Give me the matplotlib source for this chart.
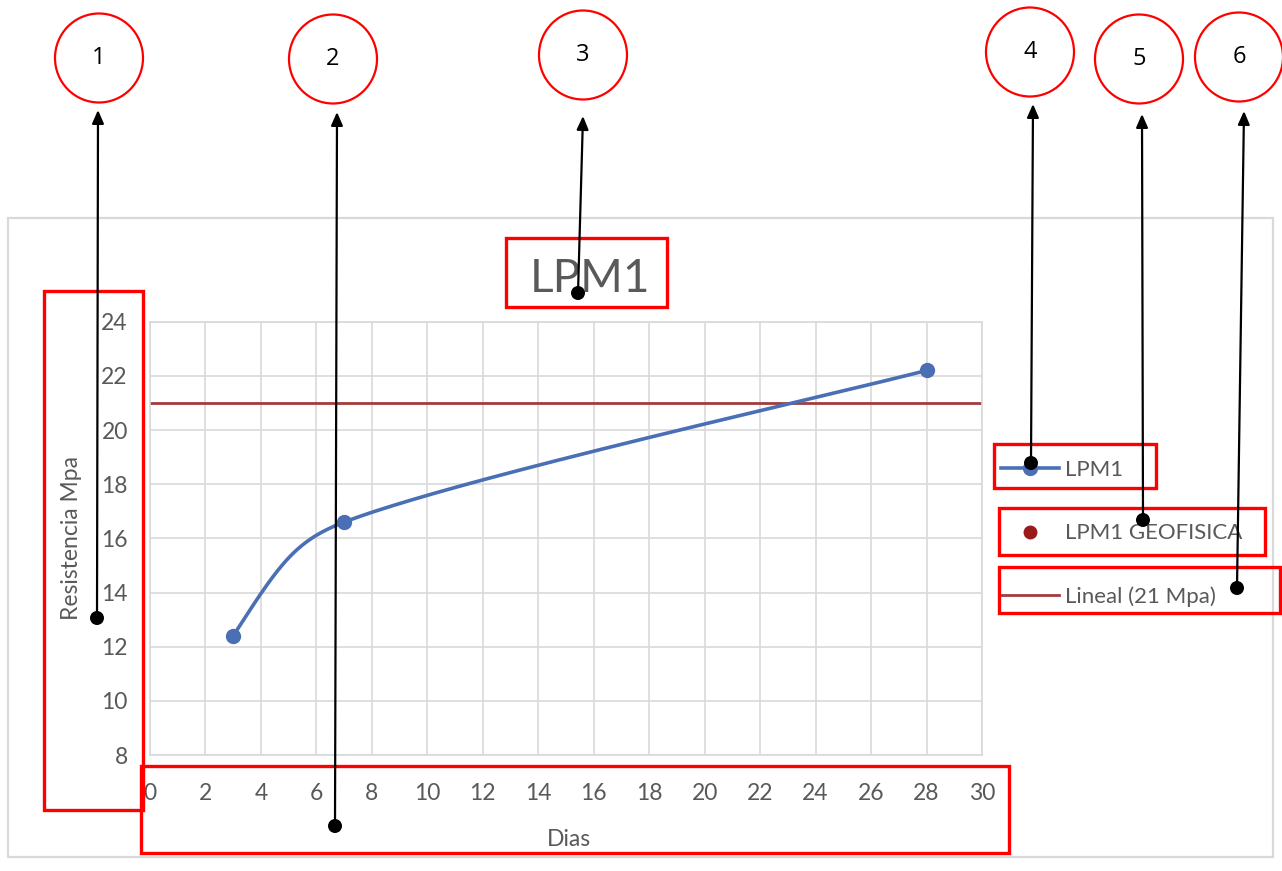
import numpy as np
import matplotlib
matplotlib.use("Agg")
import matplotlib.pyplot as plt
from matplotlib.lines import Line2D
from matplotlib.patches import Rectangle, Ellipse, FancyArrowPatch

# ---- data -------------------------------------------------------------
dias = [3, 7, 28]
resistencia = [12.4, 16.6, 22.2]
limite_mpa = 21
x_ticks = list(range(0, 31, 2))
y_ticks = list(range(8, 25, 2))
titulo = "LPM1"
etiquetas_leyenda = ["LPM1", "LPM1 GEOFISICA", "Lineal (21 Mpa)"]
numeros = ["1", "2", "3", "4", "5", "6"]

W, H = 1282, 871
plt.rcParams['font.family'] = ['Lato', 'DejaVu Sans']
GRIS = "#595959"
AZUL = "#4a6fb5"
ROJO_LINEA = "#a33b3b"
ROJO_PUNTO = "#9b1a1a"

fig = plt.figure(figsize=(W / 100, H / 100), dpi=100)
fig.patch.set_facecolor("white")


def fx(x):
    return x / W


def fy(y):
    return 1 - y / H


# chart area frame
fig.add_artist(Rectangle((fx(8), fy(857)), fx(1273 - 8), (857 - 218) / H,
                         transform=fig.transFigure, fill=False,
                         edgecolor="#d9d9d9", lw=1.6, zorder=0))

ax = fig.add_axes([fx(150), fy(755), fx(982 - 150), (755 - 321.7) / H])
ax.set_xlim(0, 30)
ax.set_ylim(8, 24)
ax.set_xticks(x_ticks)
ax.set_yticks(y_ticks)
ax.grid(True, color="#d9d9d9", lw=1.2)
ax.set_axisbelow(True)
for s in ax.spines.values():
    s.set_color("#d9d9d9")
    s.set_linewidth(1.2)
ax.tick_params(length=0, labelsize=16.5, labelcolor=GRIS)
ax.tick_params(axis="y", pad=16)
ax.tick_params(axis="x", pad=20)
ax.set_xlabel("Dias", fontsize=16.5, color=GRIS)
ax.set_ylabel("Resistencia Mpa", fontsize=16.5, color=GRIS)
ax.xaxis.set_label_coords(0.504, -0.17)
ax.yaxis.set_label_coords(-0.082, 0.5)


def suavizar(xs, ys, n=80):
    """Smoothed line through the points, built from cubic Bezier segments.

    Interior tangents follow the neighbouring points (1/6 rule), shortened
    to a third of the segment on short segments; end handles lean toward
    the inner handle so the curve bends smoothly into the first point."""
    p = np.column_stack([xs, ys]).astype(float)
    k = len(p)
    out = []
    for i in range(k - 1):
        a, b = p[i], p[i + 1]
        seg = np.linalg.norm(b - a)
        ctrl = []
        for j, sign in ((i, 1), (i + 1, -1)):
            if 0 < j < k - 1:
                t = (p[j + 1] - p[j - 1]) / 6
                tl = np.linalg.norm(t)
                corto = tl > seg / 3
                if corto:
                    t = t / tl * seg / 3
                ctrl.append((p[j] + sign * t, corto))
            else:
                ctrl.append(None)
        c1, c2 = ctrl
        if c1 is None:
            inner, corto = c2
            c1 = a + (0.75 * (inner - a) if corto else (b - a) / 6)
            c2 = inner
        elif c2 is None:
            inner, corto = c1
            c2 = b + (0.75 * (inner - b) if corto else (a - b) / 6)
            c1 = inner
        else:
            c1, c2 = c1[0], c2[0]
        t = np.linspace(0, 1, n)[:, None]
        out.append(((1 - t) ** 3) * a + 3 * ((1 - t) ** 2) * t * c1
                   + 3 * (1 - t) * t ** 2 * c2 + t ** 3 * b)
    c = np.vstack(out)
    return c[:, 0], c[:, 1]


cx, cy = suavizar(dias, resistencia)
ax.axhline(limite_mpa, color=ROJO_LINEA, lw=2, zorder=2)
ax.plot(cx, cy, color=AZUL, lw=2.6, zorder=3, solid_capstyle="round")
ax.plot(dias, resistencia, "o", color=AZUL, ms=10, zorder=4)

handles = [
    Line2D([], [], color=AZUL, lw=2.6, marker="o", ms=10),
    Line2D([], [], color=ROJO_PUNTO, lw=0, marker="o", ms=9),
    Line2D([], [], color=ROJO_LINEA, lw=2),
]
fig.legend(handles, etiquetas_leyenda, loc="upper left",
           bbox_to_anchor=(fx(1001), fy(460)),
           bbox_transform=fig.transFigure, frameon=False,
           fontsize=16, labelcolor=GRIS, handlelength=2.6,
           handletextpad=0.3, labelspacing=1.95, borderpad=0,
           borderaxespad=0)

fig.text(fx(590), fy(279), titulo, fontsize=33, color=GRIS,
         ha="center", va="center")

# ---- callouts -----------------------------------------------------------
cajas = [(44, 291, 143, 810), (141, 766, 1009, 853), (506, 238, 667, 307),
         (994, 444, 1156, 488), (999, 508, 1265, 555), (999, 567, 1280, 613)]
for x0, y0, x1, y1 in cajas:
    fig.add_artist(Rectangle((fx(x0), fy(y1)), (x1 - x0) / W, (y1 - y0) / H,
                             transform=fig.transFigure, fill=False,
                             edgecolor="#ff0000", lw=2.4, zorder=10))

circulos = [(99, 58), (333, 59), (583, 55), (1030, 52), (1139, 59), (1239, 57)]
for (ccx, ccy), num in zip(circulos, numeros):
    fig.add_artist(Ellipse((fx(ccx), fy(ccy)), 88 / W, 89 / H,
                           transform=fig.transFigure, facecolor="white",
                           edgecolor="#ff0000", lw=1.6, zorder=10))
    fig.text(fx(ccx), fy(ccy), num, fontsize=17, color="black",
             ha="center", va="center", zorder=11,
             family=["Open Sans", "DejaVu Sans"])

flechas = [((97, 618), (98, 110)), ((335, 826), (337, 112)),
           ((578, 293), (583, 116)), ((1031, 463), (1033, 104)),
           ((1143, 520), (1142, 114)), ((1237, 588), (1244, 111))]
for (x0, y0), (x1, y1) in flechas:
    fig.add_artist(FancyArrowPatch((fx(x0), fy(y0)), (fx(x1), fy(y1)),
                                   transform=fig.transFigure,
                                   arrowstyle="-|>,head_length=8,head_width=3.5",
                                   color="black", lw=1.6, shrinkA=0, shrinkB=0,
                                   zorder=12))
    fig.add_artist(Ellipse((fx(x0), fy(y0)), 14 / W, 14 / H,
                           transform=fig.transFigure, facecolor="black",
                           edgecolor="none", zorder=13))

fig.savefig("out.png", dpi=100, facecolor="white")
